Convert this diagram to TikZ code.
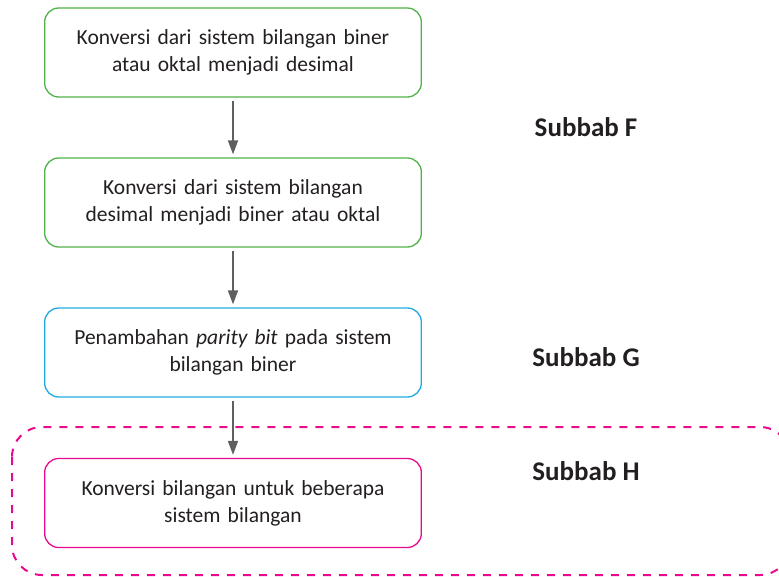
\documentclass[tikz,border=0pt]{standalone}
\usepackage{fontspec}
\setmainfont{Carlito}
\usepackage{tikz}
\usetikzlibrary{arrows.meta}

\definecolor{boxgreen}{RGB}{80,178,72}
\definecolor{boxblue}{RGB}{30,170,225}
\definecolor{boxpink}{RGB}{230,10,140}
\definecolor{arrowgray}{RGB}{95,95,95}
\definecolor{textdark}{RGB}{35,31,32}

\tikzset{
	stepbox/.style={draw, line width=1.3pt, rounded corners=14pt, minimum width=376pt, minimum height=89pt,
		align=center, text width=370pt, font=\fontsize{21.5}{27}\selectfont, text=textdark},
	flow/.style={->, draw=arrowgray, line width=1.6pt, shorten <=3pt, shorten >=3pt},
	subbab/.style={font=\fontsize{27}{30}\selectfont\bfseries, text=textdark}
}

\begin{document}
\begin{tikzpicture}[x=1pt, y=-1pt, >={Triangle[width=10pt,length=14pt]}]
		\useasboundingbox (0,0) rectangle (779,577);
		% dashed frame round the last step
		\draw[boxpink, line width=2pt, dash pattern=on 8pt off 8pt, rounded corners=30pt] (12,427) rectangle (790,575);
		% steps
		\node[stepbox, draw=boxgreen] (biner2des) at (233,52.5) {Konversi dari sistem bilangan biner\\atau oktal menjadi desimal};
		\node[stepbox, draw=boxgreen] (des2biner) at (233,202.5) {Konversi dari sistem bilangan\\desimal menjadi biner atau oktal};
		\node[stepbox, draw=boxblue] (parity) at (233,352.5) {Penambahan \textit{parity bit} pada sistem\\bilangan biner};
		\node[stepbox, draw=boxpink] (konversi) at (233,503) {Konversi bilangan untuk beberapa\\sistem bilangan};
		% arrows
		\draw[flow] (biner2des) -- (des2biner);
		\draw[flow] (des2biner) -- (parity);
		\draw[flow] (parity) -- (konversi);
		% labels
		\node[subbab] (subF) at (586,127) {Subbab F};
		\node[subbab] (subG) at (586,357) {Subbab G};
		\node[subbab] (subH) at (586,471) {Subbab H};
	\end{tikzpicture}
\end{document}
